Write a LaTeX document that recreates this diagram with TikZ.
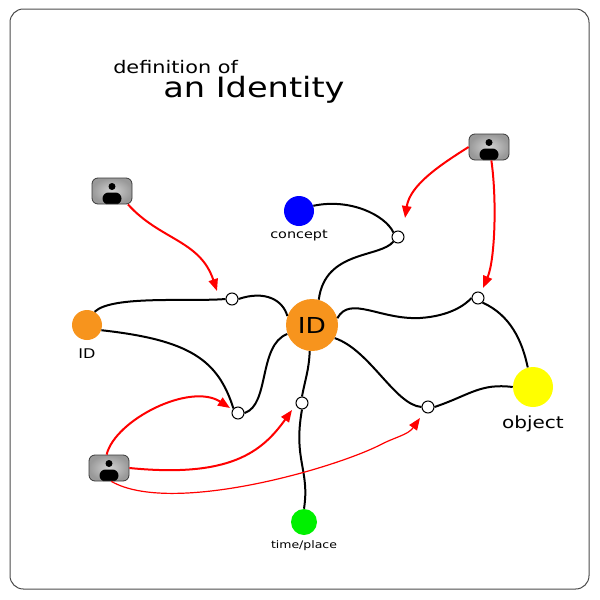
\documentclass[tikz,border=0pt]{standalone}
\usepackage{fontspec}
\newfontfamily\idfont{DejaVu Sans}[FakeStretch=1.2]
\usetikzlibrary{positioning,arrows.meta}

\tikzset{
  blob/.style={circle, inner sep=0pt, minimum size=#1},
  joint/.style={circle, draw=black, fill=white, line width=0.75pt, inner sep=0pt, minimum size=9pt},
  person/.style={rectangle, rounded corners=4.5pt, draw=gray!45!black, line width=0.6pt,
    inner color=gray!35, outer color=gray!80, minimum width=30pt, minimum height=19.5pt, inner sep=0pt,
    path picture={
      \fill[black] (path picture bounding box.center) ++(0,4.5) circle (3.5);
      \fill[black] (path picture bounding box.center) ++(-9.5,-1.5) rectangle ++(19,-12);
    }},
  link/.style={line width=1.5pt, black},
  claim/.style={line width=1.5pt, red, -{Triangle[length=9pt,width=7pt]}},
  thinclaim/.style={line width=0.9pt, red, -{Triangle[length=9pt,width=7pt]}},
  tag/.style={font=\idfont\fontsize{#1}{#1}\selectfont, inner sep=0pt}
}

\begin{document}
\begin{tikzpicture}[x=0.75pt,y=0.75pt,yscale=-1,xscale=1]
\useasboundingbox (0,0) rectangle (600,600);

%Frame
\draw [gray!60!black, line width=0.75pt, rounded corners=10pt] (10,9) rectangle (589,589);

% Text Node
\node (titlea) [tag=13pt, anchor=base west] at (113,73) {definition of};
% Text Node
\node (titleb) [tag=21pt, anchor=base west] at (163,97) {an Identity};

%Shape: Circles
\node (id) [blob=39pt, fill={rgb,255:red,247;green,148;blue,29}, font=\idfont\fontsize{16.5pt}{16.5pt}\selectfont] at (312,325) {ID};
\node (idl) [blob=22.5pt, fill={rgb,255:red,247;green,148;blue,29}] at (87,325) {};
\node (concept) [blob=22.5pt, fill={rgb,255:red,0;green,0;blue,255}] at (299,211) {};
\node (obj) [blob=30pt, fill={rgb,255:red,255;green,255;blue,0}] at (533,387) {};
\node (tp) [blob=19.5pt, fill={rgb,255:red,0;green,240;blue,0}] at (304,522) {};

% Text Node
\node (idlbl) [tag=10pt, below=6pt of idl] {ID};
\node (conceptlbl) [tag=9pt, below=3pt of concept] {concept};
\node (objlbl) [tag=12.5pt, below=6pt of obj] {object};
\node (tplbl) [tag=7.8pt, below=4pt of tp] {time/place};

%Shape: Joints
\node (j1) [joint] at (232,299) {};
\node (j2) [joint] at (238,413) {};
\node (j3) [joint] at (302,403) {};
\node (j4) [joint] at (398,237) {};
\node (j5) [joint] at (478,298) {};
\node (j6) [joint] at (428,407) {};

%Shape: Persons
\node (p1) [person] at (112,191) {};
\node (p2) [person] at (489,147) {};
\node (p3) [person] at (109,468) {};

%Arrow targets
\coordinate (a1) at (217,291);
\coordinate (a2) at (405,218);
\coordinate (a3) at (483,288);
\coordinate (a4) at (230,408);
\coordinate (a5) at (292,410);
\coordinate (a6) at (420,418);

%Curve Lines
\draw [link] (idl.60) .. controls (112,295) and (190,302) .. (j1.west);
\draw [link] (j1.east) .. controls (265,290) and (283,300) .. (id.160);
\draw [link] (idl.-20) .. controls (190,340) and (218,360) .. (j2.north west);
\draw [link] (j2.east) .. controls (270,405) and (258,345) .. (id.200);
\draw [link] (j3.north) .. controls (305,380) and (309,370) .. (id.265);
\draw [link] (j3.south) .. controls (293,460) and (310,470) .. (tp.north);
\draw [link] (concept.20) .. controls (350,198) and (385,215) .. (j4.north west);
\draw [link] (j4.south west) .. controls (380,258) and (325,250) .. (id.75);
\draw [link] (id.15) .. controls (350,295) and (380,320) .. (420,318) .. controls (450,316) and (465,305) .. (j5.west);
\draw [link] (j5.south east) .. controls (510,315) and (522,340) .. (obj.105);
\draw [link] (id.-30) .. controls (370,350) and (395,405) .. (j6.west);
\draw [link] (j6.east) .. controls (470,395) and (480,383) .. (obj.west);

%Curve Lines: red claims
\draw [claim] (p1.-40) .. controls (160,240) and (200,240) .. (a1);
\draw [claim] (p2.west) .. controls (440,165) and (410,185) .. (a2);
\draw [claim] (p2.-80) .. controls (497,200) and (495,260) .. (a3);
\draw [claim] (p3.100) .. controls (115,420) and (190,382) .. (a4);
\draw [claim] (p3.east) .. controls (230,478) and (262,452) .. (a5);
\draw [thinclaim] (p3.-80) .. controls (170,515) and (330,470) .. (380,445) .. controls (395,437) and (408,435) .. (a6);

\end{tikzpicture}
\end{document}
